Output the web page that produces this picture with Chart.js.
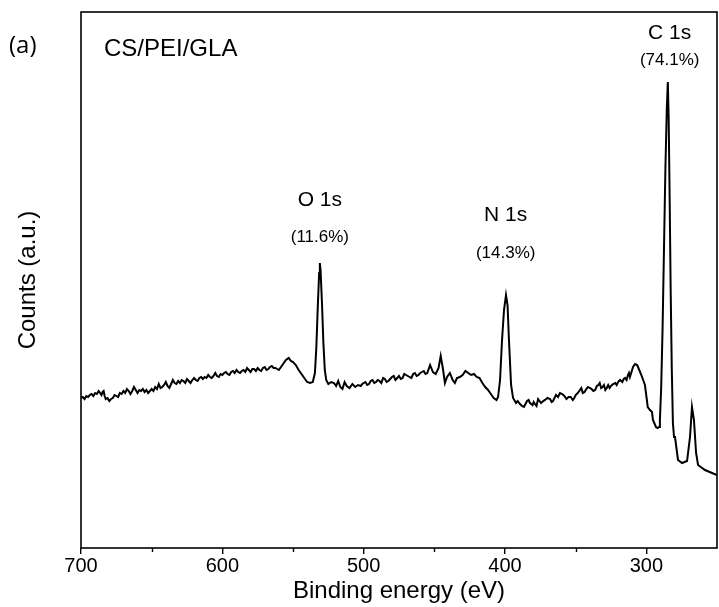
<!DOCTYPE html>
<html>
<head>
<meta charset="utf-8">
<script src="https://cdn.jsdelivr.net/npm/chart.js@4.4.1/dist/chart.umd.min.js"></script>
<style>
  html, body { margin: 0; padding: 0; background: #ffffff; }
  #wrap { width: 719px; height: 607px; position: relative; }
</style>
</head>
<body>
<div id="wrap"><canvas id="c" width="719" height="607"></canvas></div>
<script>
// ---- Data (binding energy in eV, counts in arbitrary units) ----
const energy = [
  700, 698.75, 697.5, 696.25, 695, 693.75, 692.5, 691.25, 690, 688.75,
  687.5, 686.5, 685.5, 684.75, 684, 683.25, 682.5, 681.25, 680, 678.75,
  677.5, 676.25, 675, 673.75, 672.5, 671.25, 670, 668.75, 667.5, 666.25,
  665, 663.75, 662.5, 661.25, 660, 658.75, 657.5, 656.25, 655, 653.75,
  652.5, 651.25, 650, 648.75, 647.5, 646.25, 645, 643.75, 642.5, 641.25,
  640, 638.75, 637.5, 636.25, 635, 633.75, 632.5, 631.25, 630, 628.75,
  627.5, 626.25, 625, 623.75, 622.5, 621.25, 620, 618.75, 617.5, 616.25,
  615, 613.75, 612.5, 611.25, 610, 608.75, 607.5, 606.25, 605, 603.75,
  602.5, 601.25, 600, 598.75, 597.5, 596.25, 595, 593.75, 592.5, 591.25,
  590, 588.75, 587.5, 586.25, 585, 583.75, 582.5, 581.25, 580, 578.75,
  577.5, 576.25, 575, 573.75, 572.5, 571.25, 570, 568.75, 567.5, 566.25,
  565, 563.75, 562.5, 561.25, 560, 557.5, 555, 553, 551.5, 550,
  548, 546, 544, 542, 540, 538, 536, 534.5, 533.5, 532.5,
  531.5, 531, 530.5, 529.5, 528.5, 527.5, 526.5, 525, 523, 521,
  519.5, 518, 516.5, 515, 513.5, 512, 510, 508, 506, 504,
  502, 501, 500, 498.75, 497.5, 496.25, 495, 493.75, 492.5, 491.25,
  490, 488.75, 487.5, 486.25, 485, 483.75, 482.5, 481.25, 480, 478.75,
  477.5, 476.25, 475, 473.75, 472.5, 471.25, 470, 468.75, 467.5, 466.25,
  465, 463.75, 462.5, 461.25, 460, 458.75, 457.5, 456.25, 455, 453,
  451, 449, 447, 445.5, 444, 442.5, 441, 439, 437, 435.5,
  434, 432, 430, 428, 426, 424, 422, 420, 418, 416,
  414, 412, 410, 408, 406, 404.9, 403.5, 402.1, 400.7, 399.3,
  398.2, 397.2, 395.7, 394.3, 392.2, 391, 389.4, 388, 386.6, 385.5,
  384.4, 383.3, 382.3, 380.5, 379.7, 378.8, 377.7, 376.6, 374.5, 373,
  371.7, 370, 368.1, 367, 366, 365, 363.9, 362.5, 361.1, 359.5,
  358, 356.5, 355, 353.5, 352, 351, 350, 348.5, 347, 346,
  345, 343.7, 342.5, 341.2, 340, 338.7, 337.5, 336.2, 335, 334,
  333, 332, 331, 330, 329, 328, 327, 326, 325, 323.5,
  322, 321, 320, 319.3, 318.6, 317, 316, 315, 314, 313,
  312.3, 311.6, 310.5, 309.4, 308, 306.5, 305, 303, 301, 299.8,
  299, 297.4, 296, 295.3, 293.2, 292, 291, 290.4, 289.5, 288.5,
  287.5, 286.5, 285.5, 284.8, 284.2, 283.5, 282.8, 282, 281.2, 280.4,
  279.7, 277.6, 274.7, 271.2, 269.1, 267.7, 266.3, 264.8, 263.4, 258.5,
  253.5, 250
];
const counts = [
  150, 151, 149, 152, 151, 153, 154, 152, 155, 154,
  157, 155, 153, 156, 157, 152, 149, 150, 147, 149,
  150, 153, 152, 151, 155, 154, 157, 155, 159, 157,
  154, 157, 161, 158, 155, 158, 157, 159, 156, 158,
  155, 157, 159, 157, 161, 159, 164, 160, 161, 163,
  166, 162, 160, 164, 168, 165, 164, 167, 165, 168,
  167, 165, 169, 167, 165, 168, 170, 168, 167, 170,
  171, 169, 171, 170, 173, 171, 170, 172, 175, 172,
  171, 174, 173, 175, 176, 174, 173, 176, 177, 175,
  178, 176, 175, 177, 178, 176, 180, 178, 176, 179,
  179, 177, 180, 178, 177, 180, 181, 178, 179, 181,
  182, 180, 180, 179, 178, 183, 188, 190, 187, 186,
  183, 178, 174, 170, 166, 165, 166, 175, 200, 240,
  275, 285, 278, 245, 205, 178, 168, 164, 166, 165,
  162, 167, 161, 159, 166, 162, 160, 164, 161, 163,
  162, 164, 165, 166, 163, 164, 167, 168, 165, 166,
  168, 167, 165, 170, 169, 166, 167, 169, 171, 172,
  168, 170, 172, 169, 170, 174, 173, 172, 171, 170,
  174, 175, 172, 173, 175, 176, 177, 174, 175, 183,
  176, 174, 180, 192, 180, 165, 171, 175, 168, 165,
  170, 171, 173, 177, 175, 173, 174, 171, 170, 165,
  161, 158, 154, 150, 148, 151, 168, 208, 238, 253,
  243, 208, 163, 150, 145, 147, 144, 142, 141, 144,
  147, 148, 145, 143, 146, 144, 142, 149, 145, 147,
  148, 150, 149, 146, 147, 150, 153, 151, 155, 154,
  152, 149, 151, 151, 148, 150, 153, 155, 158, 160,
  155, 156, 159, 161, 160, 159, 157, 158, 162, 163,
  165, 160, 161, 163, 158, 160, 163, 160, 162, 164,
  165, 163, 166, 167, 168, 166, 169, 170, 168, 173,
  175, 171, 176, 181, 184, 183, 178, 171, 163, 150,
  141, 138, 136, 128, 121, 120, 121, 128, 160, 220,
  300, 380, 440, 466, 430, 350, 260, 180, 125, 111,
  111, 88, 85, 87, 111, 141, 128, 95, 83, 78,
  75, 73
];
const xTickValues = [700, 600, 500, 400, 300];
const xMinorTickValues = [650, 550, 450, 350];
const peakNames = ['O 1s', 'N 1s', 'C 1s'];
const peakShares = ['(11.6%)', '(14.3%)', '(74.1%)'];
const peakLabelEnergy = [531, 399.5, 283.5];
const peakNameLevel = [348, 333, 515];
const peakShareLevel = [311, 295, 488];
const panelLabel = '(a)';
const sampleName = 'CS/PEI/GLA';

// ---- Chart ----
const FONT = "'Liberation Sans', Arial, sans-serif";

const decorPlugin = {
  id: 'decor',
  afterDraw(chart) {
    const ctx = chart.ctx;
    const a = chart.chartArea;
    const xs = chart.scales.x, ys = chart.scales.y;
    ctx.save();
    // frame
    ctx.strokeStyle = '#000';
    ctx.lineWidth = 1.6;
    ctx.strokeRect(a.left, a.top, a.right - a.left, a.bottom - a.top);
    // minor ticks
    ctx.lineWidth = 1.4;
    ctx.beginPath();
    xMinorTickValues.forEach(v => {
      const px = Math.round(xs.getPixelForValue(v)) + 0.5;
      ctx.moveTo(px, a.bottom);
      ctx.lineTo(px, a.bottom + 4);
    });
    ctx.stroke();
    // peak annotations
    ctx.fillStyle = '#000';
    ctx.textAlign = 'center';
    ctx.textBaseline = 'middle';
    peakNames.forEach((name, i) => {
      const px = xs.getPixelForValue(peakLabelEnergy[i]);
      ctx.font = '21px ' + FONT;
      ctx.fillText(name, px, ys.getPixelForValue(peakNameLevel[i]));
      ctx.font = '17px ' + FONT;
      ctx.fillText(peakShares[i], px, ys.getPixelForValue(peakShareLevel[i]));
    });
    // panel label and sample name
    ctx.textAlign = 'left';
    ctx.font = "24px 'Open Sans', Lato, sans-serif";
    ctx.fillText(panelLabel, 9, 46);
    ctx.font = '24px ' + FONT;
    ctx.fillText(sampleName, 104, 49);
    ctx.restore();
  }
};

new Chart(document.getElementById('c'), {
  type: 'line',
  data: {
    datasets: [{
      data: energy.map((e, i) => ({ x: e, y: counts[i] })),
      borderColor: '#000',
      borderWidth: 2,
      pointRadius: 0,
      tension: 0,
      fill: false
    }]
  },
  options: {
    responsive: false,
    animation: false,
    events: [],
    layout: { padding: { top: 12, right: 2, left: 0, bottom: 0 } },
    plugins: { legend: { display: false }, tooltip: { enabled: false } },
    scales: {
      x: {
        type: 'linear',
        reverse: true,
        min: 250,
        max: 700,
        afterBuildTicks: s => { s.ticks = xTickValues.map(v => ({ value: v })); },
        afterFit: s => { s.height = 59; },
        ticks: { color: '#000', font: { family: FONT, size: 20 }, padding: 0, maxRotation: 0 },
        grid: { drawOnChartArea: false, drawTicks: true, tickLength: 6, color: '#000', lineWidth: 1.4 },
        border: { display: false },
        title: { display: true, text: 'Binding energy (eV)', color: '#000', font: { family: FONT, size: 24 }, padding: { top: 0, bottom: 1 } }
      },
      y: {
        min: 0,
        max: 536,
        afterFit: s => { s.width = 81; },
        ticks: { display: false },
        grid: { display: false, drawTicks: false },
        border: { display: false },
        title: { display: true, text: 'Counts (a.u.)', color: '#000', font: { family: FONT, size: 24 }, padding: { top: 14, bottom: 0 } }
      }
    }
  },
  plugins: [decorPlugin]
});
</script>
</body>
</html>
